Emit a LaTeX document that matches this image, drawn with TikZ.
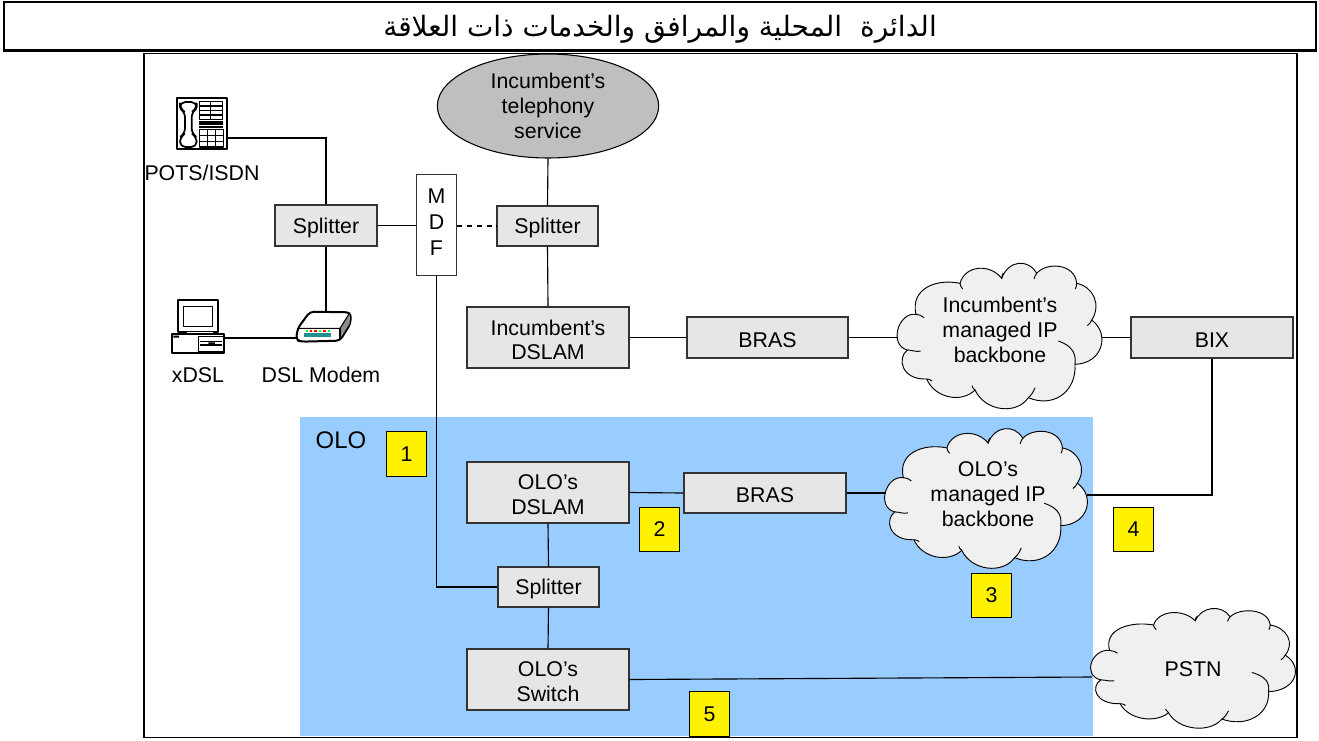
\documentclass[tikz,border=0pt]{standalone}
\usepackage{fontspec}
\setmainfont{Liberation Sans}
\newfontfamily\arabicfont[Script=Arabic]{DejaVu Sans}
\TeXXeTstate=1
\usetikzlibrary{shapes.geometric}
\definecolor{boxgray}{HTML}{E6E6E6}
\definecolor{cloudgray}{HTML}{F0F0F0}
\definecolor{oloblue}{HTML}{99CCFF}
\definecolor{ledteal}{HTML}{1F8F8F}
\definecolor{edgegray}{HTML}{333333}
\tikzset{
  x=0.75pt,y=-0.75pt,
  every node/.style={font=\fontsize{16}{18.6}\selectfont,align=center,text=black},
  grayframe/.style={draw=edgegray,line width=0.8pt,fill=boxgray,inner sep=0pt},
  conn/.style={draw=black,line width=0.85pt},
  badge/.style={draw=black,line width=0.6pt,fill=yellow,inner sep=0pt,minimum width=30.5pt,minimum height=33.5pt},
  cloudline/.style={draw=black,line width=0.7pt},
  ghost/.style={inner sep=0pt},
  iconline/.style={draw=black,line width=0.8pt,line join=round},
  iconthick/.style={draw=black,line width=1.5pt,line join=round,fill=white},
}
\newcommand{\gbox}[6]{\node[grayframe,minimum width=#4*0.75pt,minimum height=#5*0.75pt,label={[name=#1t,yshift=-1.8pt]center:#6}] (#1) at (#2,#3) {};}
\newcommand{\cloudat}[5]{%
  \begin{scope}[shift={(#2,#3)},xscale=#4/3,yscale=#5/3,shift={(-360,-240)}]
    \draw[cloudline,fill=cloudgray] (108,178)
      .. controls (55,170) and (25,270) .. (82,285)
      .. controls (50,310) and (65,375) .. (140,372)
      .. controls (165,430) and (245,445) .. (285,405)
      .. controls (315,470) and (410,480) .. (445,428)
      .. controls (520,460) and (590,410) .. (585,328)
      .. controls (670,325) and (690,235) .. (635,195)
      .. controls (665,150) and (640,95) .. (590,85)
      .. controls (585,25) and (500,20) .. (470,55)
      .. controls (445,10) and (385,15) .. (365,70)
      .. controls (330,25) and (255,30) .. (240,85)
      .. controls (170,70) and (90,100) .. (108,178) -- cycle;
    \draw[cloudline] (108,178) .. controls (118,178) and (125,182) .. (132,188);
    \draw[cloudline] (82,285) .. controls (95,285) and (110,292) .. (122,288);
    \draw[cloudline] (140,372) .. controls (145,372) and (150,373) .. (156,378);
    \draw[cloudline] (285,405) .. controls (280,402) and (278,398) .. (276,392);
    \draw[cloudline] (445,428) .. controls (455,420) and (460,410) .. (465,398);
    \draw[cloudline] (585,328) .. controls (590,290) and (570,270) .. (535,258);
    \draw[cloudline] (635,195) .. controls (632,202) and (628,208) .. (622,212);
    \draw[cloudline] (590,85) .. controls (590,90) and (589,96) .. (586,102);
    \draw[cloudline] (365,70) .. controls (365,64) and (367,58) .. (370,54);
    \draw[cloudline] (470,55) .. controls (466,60) and (463,66) .. (462,72);
    \draw[cloudline] (240,85) .. controls (240,90) and (243,96) .. (248,102);
  \end{scope}
  \node[ghost,minimum width=203*#4*0.75pt,minimum height=147*#5*0.75pt] (#1) at (#2,#3) {};%
}
\begin{document}
\begin{tikzpicture}
\useasboundingbox (0,0) rectangle (1319,740);
% title + frame
\node[draw=black,line width=1.1pt,minimum width=984pt,minimum height=36pt,inner sep=0pt,label={[name=titlet,yshift=-2.5pt,font=\fontsize{21}{24}\selectfont\arabicfont]center:\beginR الدائرة\ \ المحلية والمرافق والخدمات ذات العلاقة\endR}] (title) at (660,26) {};
\draw[line width=2.2pt] (title.south west) -- (title.south east);
\node[draw=black,line width=1.3pt,minimum width=864.5pt,minimum height=513pt,inner sep=0pt] (frame) at (720.5,395.5) {};
\node[fill=oloblue,minimum width=594.5pt,minimum height=239.5pt,inner sep=0pt] (olo) at (696.5,576.5) {};
\node[font=\fontsize{18}{20}\selectfont] (ololabel) at (341,440) {OLO};
% badges
\node[badge] (b1) at (406.5,454) {1};
\node[badge] (b2) at (659.5,529.5) {2};
\node[badge] (b3) at (991.5,595.5) {3};
\node[badge] (b4) at (1133.5,529.5) {4};
\node[badge] (b5) at (709.5,714) {5};
% ellipse
\node[ellipse,draw=black,line width=0.8pt,fill=black!25,minimum width=166pt,minimum height=78pt,inner sep=0pt] (tel) at (548,106) {Incumbent’s\\telephony\\service};
% boxes
\gbox{sp1}{326}{225.5}{102}{41}{Splitter}
\node[draw=edgegray,line width=0.7pt,fill=white,minimum width=30pt,minimum height=75.4pt,inner sep=0pt,label={[name=mdft,yshift=2pt,font=\fontsize{16}{19.2}\selectfont]center:M\\D\\F}] (mdf) at (436.5,224.8) {};
\gbox{sp2}{547.5}{226}{101}{40}{Splitter}
\gbox{idslam}{548}{337.5}{162}{61}{Incumbent’s\\DSLAM}
\gbox{ibras}{767.5}{337.5}{161}{41}{BRAS}
\gbox{bix}{1212}{337.5}{162}{41}{BIX}
\gbox{odslam}{548}{492.5}{162}{61}{OLO’s\\DSLAM}
\gbox{obras}{765}{493}{162}{40}{BRAS}
\gbox{sp3}{548.5}{587}{101}{40}{Splitter}
\gbox{osw}{548}{679.5}{162}{61}{OLO’s\\Switch}
% clouds
\cloudat{c1}{1000}{335}{1}{1}
\node (c1t) at (1000,330) {Incumbent’s\\managed IP\\backbone};
\cloudat{c2}{986.5}{497.5}{0.99}{0.96}
\node (c2t) at (988,494) {OLO’s\\managed IP\\backbone};
\cloudat{c3}{1193.5}{667.5}{1}{0.823}
\node (c3t) at (1193,669) {PSTN};
% phone icon
\begin{scope}[shift={(170,92)},scale=0.3333]
  \draw[iconthick] (20,18) rectangle (172,172);
  \draw[iconthick,line width=1.3pt,rounded corners=4pt] (30,30) -- (80,30) -- (80,50) -- (65,60) -- (65,125) -- (80,135) -- (80,165) -- (30,165) -- (30,135) -- (45,125) -- (45,60) -- (30,50) -- cycle;
  \draw[iconline] (88,28) rectangle (158,82);
  \draw[iconline] (122,28) -- (122,82) (88,42) -- (158,42) (88,56) -- (158,56) (88,69) -- (158,69);
  \draw[iconline,line width=1.3pt] (88,90) -- (160,90) (88,97) -- (160,97) (88,104) -- (160,104);
  \draw[iconline] (88,112) rectangle (160,165);
  \draw[iconline] (112,112) -- (112,165) (136,112) -- (136,165) (88,130) -- (160,130) (88,148) -- (160,148);
\end{scope}
\coordinate (phr) at (228,138);
% computer icon
\begin{scope}[shift={(165,295)},scale=0.3333]
  \draw[iconthick] (40,15) rectangle (158,110);
  \draw[iconline,line width=1.2pt] (55,35) rectangle (142,95);
  \draw[iconthick,line width=1.1pt] (65,110) rectangle (145,118);
  \draw[iconthick] (20,118) rectangle (178,175);
  \draw[iconline] (100,125) rectangle (175,170) (105,140) -- (170,140) (105,150) -- (170,150);
  \draw[draw=none,fill=black] (130,142) rectangle (150,152) (25,122) rectangle (42,128);
\end{scope}
\coordinate (pce) at (224,338);
% modem icon
\begin{scope}[shift={(165,295)},scale=0.3333]
  \draw[iconthick,fill=white,rounded corners=3pt] (393,135) -- (398,100) -- (435,50) -- (557,52) -- (557,85) -- (525,137) -- (410,140) -- cycle;
  \draw[draw=none,fill=black!45] (525,100) -- (554,56) -- (554,85) -- (523,133) -- cycle;
  \draw[iconline] (400,100) -- (525,100) -- (554,54);
  \draw[iconline] (525,100) -- (525,135);
  \draw[draw=none,fill=ledteal] (418,113) rectangle (498,126);
  \foreach \lx/\lc in {422/green,434/red,447/red,461/green,474/red,488/green}{
    \fill[\lc] (\lx,104) rectangle +(8,6);
  }
\end{scope}
\coordinate (mtop) at (326,311);
\coordinate (modemw) at (297,338);
\node (potsl) at (202,173) {POTS/ISDN};
\node (xdsl) at (198,375) {xDSL};
\node (dsll) at (321,375) {DSL Modem};
% connectors
\draw[conn] (phr) -| (sp1.north);
\draw[conn] (sp1.south) -- (mtop);
\draw[conn] (pce) -- (modemw);
\draw[conn] (sp1.east) -- (mdf.west |- sp1.east);
\draw[conn,line width=2pt,dash pattern=on 4pt off 3.4pt] (mdf.east |- sp2.west) -- (sp2.west);
\draw[conn] (tel.south) -- (sp2.north);
\draw[conn] (sp2.south) -- (idslam.north);
\draw[conn] (idslam.east) -- (ibras.west);
\draw[conn] (ibras.east) -- (c1.west |- ibras.east);
\draw[conn] (c1.east |- bix.west) -- (bix.west);
\draw[conn] (bix.south) |- (c2.east |- 0,495);
\draw[conn] (odslam.east) -- (obras.west);
\draw[conn] (obras.east) -- (c2.west |- obras.east);
\draw[conn] (mdf.south) |- (sp3.west);
\draw[conn] (odslam.south) -- (sp3.north);
\draw[conn] (sp3.south) -- (osw.north);
\draw[conn] (osw.east) -- (c3.west |- 0,677);
\end{tikzpicture}
\end{document}
